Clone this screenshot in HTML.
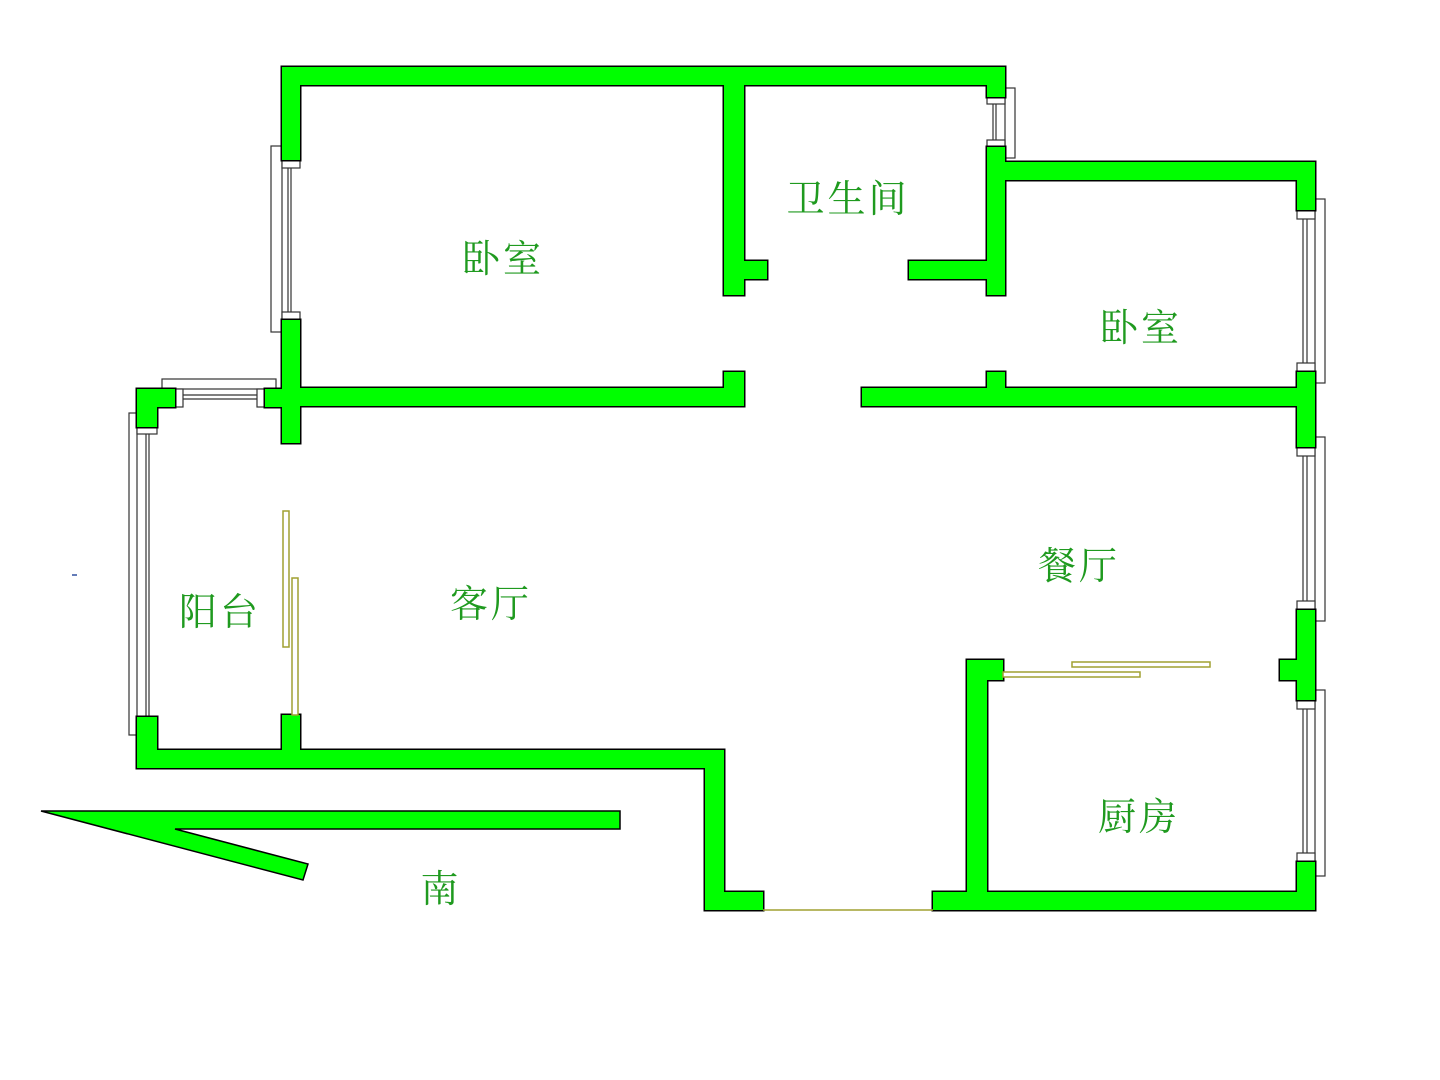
<!DOCTYPE html>
<html><head><meta charset="utf-8">
<style>
html,body{margin:0;padding:0;background:#fff;}
svg{display:block;}
text{font-family:"Liberation Serif","Noto Serif CJK SC",serif;fill:#1f9a1f;font-size:38px;text-anchor:middle;dominant-baseline:central;letter-spacing:3px;}
</style></head><body>
<svg width="1440" height="1080" viewBox="0 0 1440 1080" xmlns="http://www.w3.org/2000/svg">
<defs>
<g id="walls">
  <rect x="282" y="67" width="723" height="18"/>
  <rect x="282" y="67" width="18" height="93"/>
  <rect x="282" y="320" width="18" height="123"/>
  <rect x="724" y="85" width="20" height="210"/>
  <rect x="724" y="261" width="43" height="18"/>
  <rect x="987" y="67" width="18" height="30"/>
  <rect x="987" y="147" width="18" height="148"/>
  <rect x="909" y="261" width="96" height="18"/>
  <rect x="987" y="162" width="328" height="18"/>
  <rect x="1297" y="162" width="18" height="48"/>
  <rect x="1297" y="372" width="18" height="75"/>
  <rect x="1297" y="610" width="18" height="90"/>
  <rect x="1280" y="660" width="35" height="20"/>
  <rect x="1297" y="862" width="18" height="48"/>
  <rect x="282" y="388" width="462" height="18"/>
  <rect x="724" y="372" width="20" height="34"/>
  <rect x="862" y="388" width="453" height="18"/>
  <rect x="987" y="372" width="18" height="34"/>
  <rect x="137" y="389" width="38" height="18"/>
  <rect x="265" y="389" width="35" height="18"/>
  <rect x="137" y="389" width="20" height="38"/>
  <rect x="137" y="717" width="20" height="51"/>
  <rect x="137" y="750" width="587" height="18"/>
  <rect x="282" y="715" width="18" height="50"/>
  <rect x="705" y="750" width="19" height="160"/>
  <rect x="705" y="892" width="58" height="18"/>
  <rect x="933" y="892" width="382" height="18"/>
  <rect x="967" y="660" width="20" height="250"/>
  <rect x="967" y="660" width="36" height="20"/>
</g>
</defs>
<g fill="#fff" stroke="#333" stroke-width="1.2">
  <rect x="271" y="146" width="11" height="186"/>
  <rect x="282" y="160" width="18" height="8"/><rect x="282" y="312" width="18" height="8"/>
  <line x1="288" y1="168" x2="288" y2="312"/><line x1="291" y1="168" x2="291" y2="312"/>
  <rect x="1005" y="88" width="10" height="70"/>
  <rect x="987" y="97" width="18" height="7"/><rect x="987" y="140" width="18" height="7"/>
  <line x1="993" y1="104" x2="993" y2="140"/><line x1="996" y1="104" x2="996" y2="140"/>
  <rect x="1315" y="199" width="10" height="184"/><rect x="1297" y="210" width="18" height="9"/><rect x="1297" y="363" width="18" height="9"/>
  <line x1="1303" y1="219" x2="1303" y2="363"/><line x1="1307" y1="219" x2="1307" y2="363"/>
  <rect x="1315" y="437" width="10" height="184"/><rect x="1297" y="447" width="18" height="9"/><rect x="1297" y="601" width="18" height="9"/>
  <line x1="1303" y1="456" x2="1303" y2="601"/><line x1="1307" y1="456" x2="1307" y2="601"/>
  <rect x="1315" y="690" width="10" height="186"/><rect x="1297" y="700" width="18" height="9"/><rect x="1297" y="853" width="18" height="9"/>
  <line x1="1303" y1="709" x2="1303" y2="853"/><line x1="1307" y1="709" x2="1307" y2="853"/>
  <rect x="162" y="379" width="114" height="10"/>
  <rect x="175" y="389" width="8" height="18"/><rect x="257" y="389" width="8" height="18"/>
  <line x1="183" y1="395" x2="257" y2="395"/><line x1="183" y1="399" x2="257" y2="399"/>
  <rect x="129" y="413" width="8" height="322"/>
  <rect x="137" y="427" width="20" height="7"/><rect x="137" y="717" width="20" height="7"/>
  <line x1="146" y1="434" x2="146" y2="717"/><line x1="149" y1="434" x2="149" y2="717"/>
</g>
<use href="#walls" fill="#000" stroke="#000" stroke-width="3"/>
<use href="#walls" fill="#00ff00"/>
<g fill="#fff" stroke="#a0a030" stroke-width="1.5">
  <rect x="283" y="511" width="6" height="136"/>
  <rect x="292" y="578" width="6" height="137"/>
  <rect x="1003" y="672" width="137" height="5"/>
  <rect x="1072" y="662" width="138" height="5"/>
</g>
<line x1="763" y1="910" x2="933" y2="910" stroke="#a0a030" stroke-width="1.5"/>
<line x1="72" y1="575" x2="77" y2="575" stroke="#3050a0" stroke-width="1.5"/>
<polygon points="41,811 620,811 620,829 175,829 308,864 303,880" fill="#00ff00" stroke="#000" stroke-width="1.5"/>
<text x="503" y="260">卧室</text>
<text x="848" y="200">卫生间</text>
<text x="1141" y="329">卧室</text>
<text x="1079" y="567">餐厅</text>
<text x="491" y="605">客厅</text>
<text x="220" y="613">阳台</text>
<text x="1139" y="818">厨房</text>
<text x="441" y="890">南</text>
</svg>
</body></html>
